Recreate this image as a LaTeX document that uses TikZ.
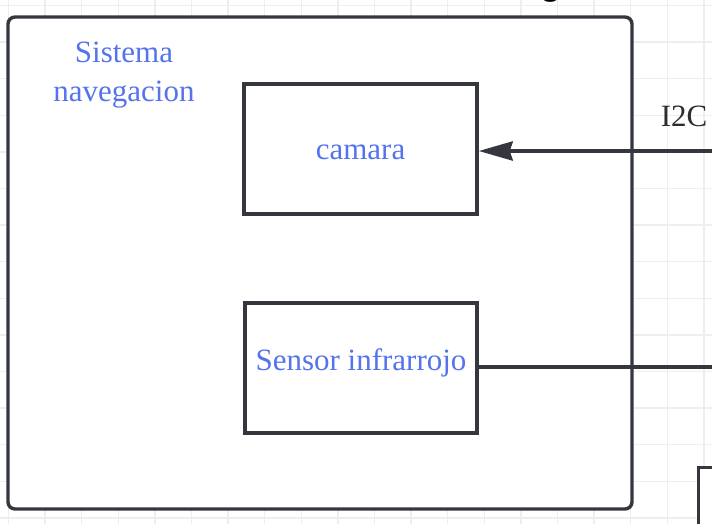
\documentclass[tikz,border=0pt]{standalone}
\usepackage{fontspec}
\setmainfont{Liberation Serif}
\newfontfamily\headfont{Carlito}
\usetikzlibrary{arrows.meta}
\definecolor{edgegray}{RGB}{52,56,62}
\definecolor{labelblue}{RGB}{85,115,235}
\definecolor{gridgray}{RGB}{238,238,238}
\definecolor{textgray}{RGB}{45,45,45}
\begin{document}
\begin{tikzpicture}[x=1pt,y=-1pt,
  box/.style={draw=edgegray, line width=3.4pt, fill=white, inner sep=0pt},
  lbl/.style={text=labelblue, font=\fontsize{31}{37}\selectfont, inner sep=0pt, anchor=base},
  wire/.style={draw=edgegray, line width=3.2pt},
  bus/.style={draw=edgegray, line width=4pt, -{Stealth[length=34pt,width=19pt,inset=3pt]}},
  gridline/.style={draw=gridgray, line width=1.5pt}
]
\clip (0,0) rectangle (712,524);
\fill[white] (0,0) rectangle (712,524);
% background grid
\foreach \k in {0,...,19} \draw[gridline] ({8.5+36.6*\k},0) -- ({8.5+36.6*\k},524);
\foreach \k in {0,...,14} \draw[gridline] (0,{5.5+36.6*\k}) -- (712,{5.5+36.6*\k});

% heading above the frame
\node[font=\headfont\fontsize{40}{48}\selectfont, anchor=base, inner sep=0pt] (heading) at (551,-4) {g};

% navigation subsystem frame
\node[box, rounded corners=7pt, minimum width=624pt, minimum height=492pt] (nav) at (320,263) {};
\node[lbl] (navtitleA) at (124,63) {Sistema};
\node[lbl] (navtitleB) at (124,102) {navegacion};

% camera block
\node[box, minimum width=233pt, minimum height=130pt] (cam) at (360.5,149) {};
\node[lbl] (camtext) at (360.5,159) {camara};

% infrared sensor block
\node[box, minimum width=232pt, minimum height=130pt] (ir) at (361,368) {};
\node[lbl] (irtext) at (361,370) {Sensor infrarrojo};

% external block, bottom right
\node[box, minimum width=120pt, minimum height=120pt, anchor=north west] (hub) at (697,466) {};

% connections
\coordinate (busin) at (730,151);
\coordinate (irout) at (730,367);
\draw[bus] (busin) -- (busin -| cam.east);
\draw[wire] (irout -| ir.east) -- (irout);
\node[font=\fontsize{31}{37}\selectfont, text=textgray, anchor=base, inner sep=0pt] (i2c) at (684,127) {I2C};
\end{tikzpicture}
\end{document}
